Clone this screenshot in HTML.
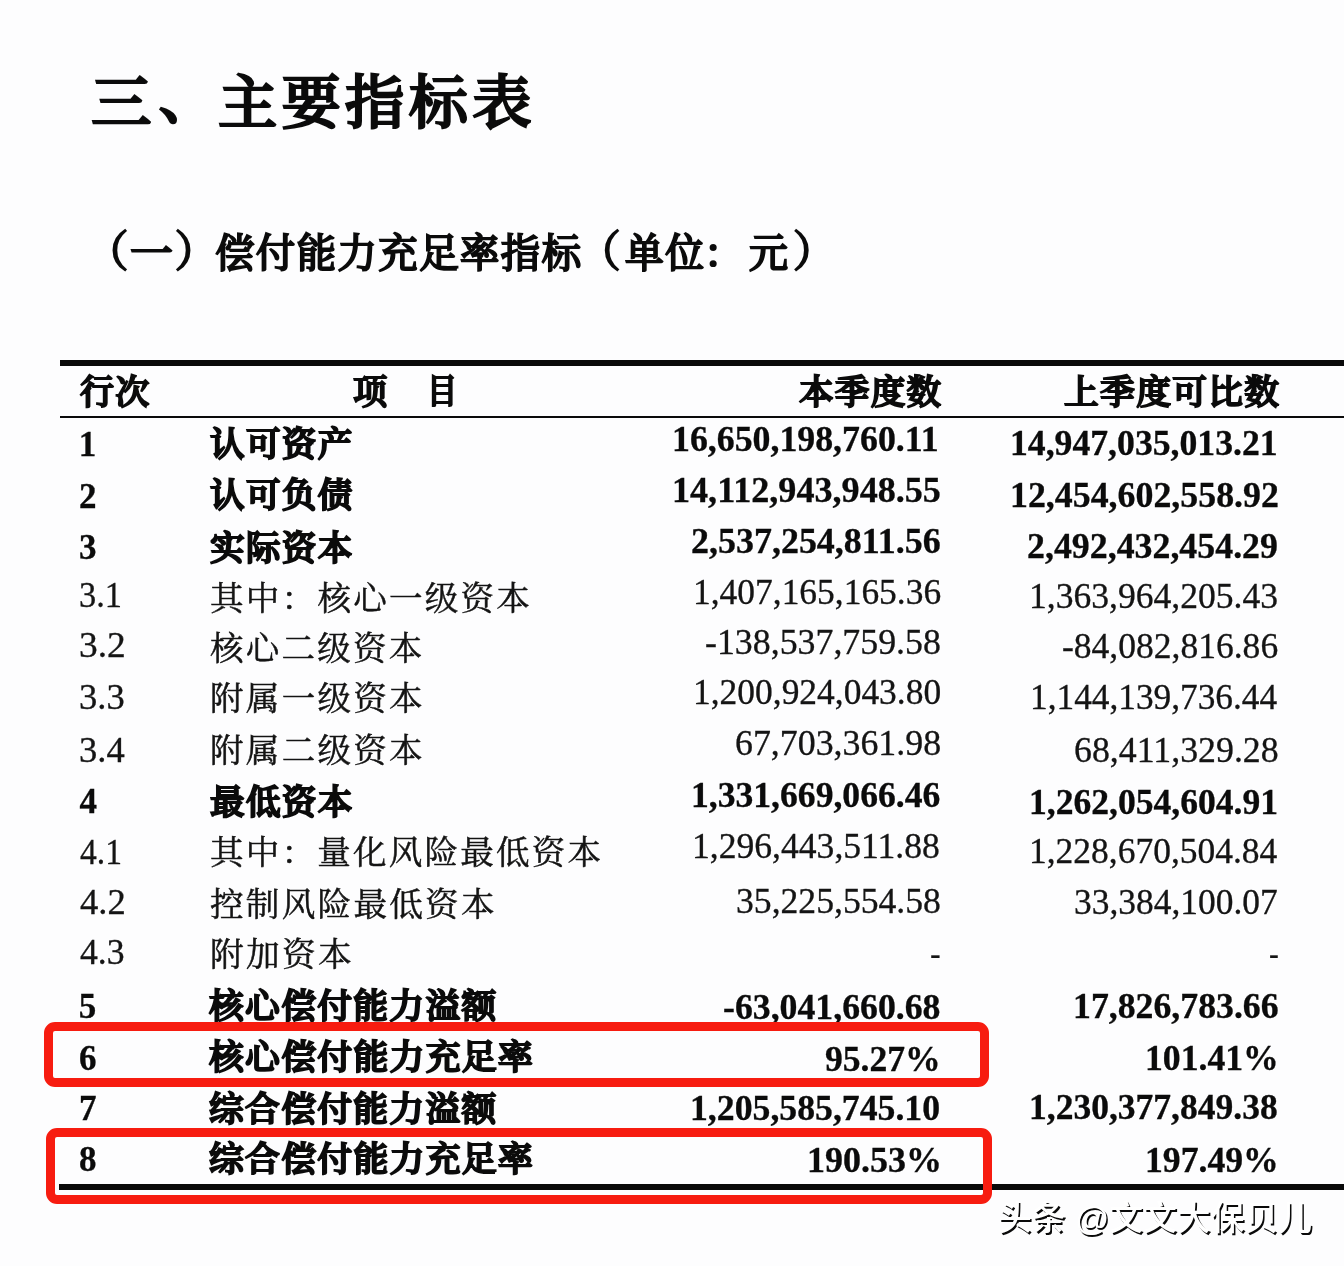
<!DOCTYPE html>
<html lang="zh-CN">
<head>
<meta charset="utf-8">
<title>三、主要指标表</title>
<style>
html,body{margin:0;padding:0;background:#fdfdfe;}
body{width:1344px;height:1266px;position:relative;overflow:hidden;filter:blur(0.45px);font-family:"Liberation Serif","Noto Serif CJK SC",serif;}
.t{position:absolute;white-space:nowrap;line-height:1;transform-origin:0 0;}
.b{font-weight:700;color:#0b0b0b;}
.r{font-weight:400;color:#141414;}
.g{position:absolute;left:0;top:0;width:1344px;height:0;}
.ln{position:absolute;background:#0a0a0a;}
.box{position:absolute;box-sizing:border-box;border-style:solid;border-color:#f71c10;}
.wm{position:absolute;white-space:nowrap;line-height:1;font-family:"Liberation Sans","Noto Sans CJK SC",sans-serif;color:#fff;}
</style>
</head>
<body>

<div class="ln" style="left:60px;top:359.7px;width:1284px;height:6px;"></div>
<div class="ln" style="left:60px;top:415.6px;width:1284px;height:2px;"></div>
<div class="ln" style="left:58.5px;top:1183.7px;width:1285.5px;height:6.5px;"></div>

<div class="g title">
<span class="t b" style="left:90.6px;top:74.6px;font-size:58.5px;transform:scaleX(1.0333);letter-spacing:4.2px;-webkit-text-stroke:2.5px #0b0b0b;font-weight:500;">三</span>
<span class="t b" style="left:158.4px;top:70.3px;font-size:58.5px;letter-spacing:4.2px;-webkit-text-stroke:2.5px #0b0b0b;font-weight:500;">、</span>
<span class="t b" style="left:218.3px;top:74.6px;font-size:58.5px;transform:scaleX(1.0136);letter-spacing:4.2px;-webkit-text-stroke:2.5px #0b0b0b;font-weight:500;">主要指标表</span>
</div>
<div class="g sub">
<span class="t b" style="left:85.6px;top:230.5px;font-size:43px;-webkit-text-stroke:1.9px #0b0b0b;font-weight:400;">（</span>
<span class="t b" style="left:130.2px;top:234.6px;font-size:39.5px;transform:scaleX(1.0868);letter-spacing:1.5px;-webkit-text-stroke:2.2px #0b0b0b;font-weight:400;">一</span>
<span class="t b" style="left:174.6px;top:230.5px;font-size:43px;-webkit-text-stroke:1.9px #0b0b0b;font-weight:400;">）</span>
<span class="t b" style="left:215.3px;top:234.6px;font-size:39.5px;transform:scaleX(0.9959);letter-spacing:1.5px;-webkit-text-stroke:2.2px #0b0b0b;font-weight:400;">偿付能力充足率指标</span>
<span class="t b" style="left:577.8px;top:230.5px;font-size:43px;-webkit-text-stroke:1.9px #0b0b0b;font-weight:400;">（</span>
<span class="t b" style="left:624.8px;top:234.6px;font-size:39.5px;transform:scaleX(0.9812);letter-spacing:1.5px;-webkit-text-stroke:2.2px #0b0b0b;font-weight:400;">单位</span>
<span class="t b" style="left:704.0px;top:234.6px;font-size:39.5px;letter-spacing:1.5px;-webkit-text-stroke:2.2px #0b0b0b;font-weight:400;">：</span>
<span class="t b" style="left:748.7px;top:234.6px;font-size:39.5px;transform:scaleX(0.9897);letter-spacing:1.5px;-webkit-text-stroke:2.2px #0b0b0b;font-weight:400;">元</span>
<span class="t b" style="left:792.8px;top:230.5px;font-size:43px;-webkit-text-stroke:1.9px #0b0b0b;font-weight:400;">）</span>
</div>
<div class="t b" style="left:80.0px;top:376.1px;font-size:34px;letter-spacing:1.3px;-webkit-text-stroke:2.1px #0b0b0b;font-weight:500;">行次</div>
<div class="t b" style="left:353.0px;top:375.5px;font-size:34px;transform:scaleX(1.0088);letter-spacing:1.3px;-webkit-text-stroke:2.1px #0b0b0b;font-weight:500;">项</div>
<div class="t b" style="left:426.8px;top:375.4px;font-size:34px;transform:scaleX(0.8885);letter-spacing:1.3px;-webkit-text-stroke:2.1px #0b0b0b;font-weight:500;">目</div>
<div class="t b" style="left:798.6px;top:375.7px;font-size:34px;transform:scaleX(1.0157);letter-spacing:1.3px;-webkit-text-stroke:2.1px #0b0b0b;font-weight:500;">本季度数</div>
<div class="t b" style="left:1064.0px;top:375.7px;font-size:34px;transform:scaleX(1.0218);letter-spacing:1.3px;-webkit-text-stroke:2.1px #0b0b0b;font-weight:500;">上季度可比数</div>
<div class="t b" style="left:78.8px;top:426.7px;font-size:35px;-webkit-text-stroke:0.3px #0b0b0b;">1</div>
<div class="t b" style="left:209.5px;top:428.0px;font-size:34px;transform:scaleX(1.0164);letter-spacing:1.3px;-webkit-text-stroke:2.2px #0b0b0b;font-weight:500;">认可资产</div>
<div class="t b" style="left:672.3px;top:422.4px;font-size:35px;transform:scaleX(1.0230);-webkit-text-stroke:0.3px #0b0b0b;">16,650,198,760.11</div>
<div class="t b" style="left:1009.9px;top:426.0px;font-size:35px;transform:scaleX(1.0194);-webkit-text-stroke:0.3px #0b0b0b;">14,947,035,013.21</div>
<div class="t b" style="left:78.9px;top:478.9px;font-size:35px;-webkit-text-stroke:0.3px #0b0b0b;">2</div>
<div class="t b" style="left:209.5px;top:478.9px;font-size:34px;transform:scaleX(1.0164);letter-spacing:1.3px;-webkit-text-stroke:2.2px #0b0b0b;font-weight:500;">认可负债</div>
<div class="t b" style="left:672.3px;top:473.4px;font-size:35px;transform:scaleX(1.0320);-webkit-text-stroke:0.3px #0b0b0b;">14,112,943,948.55</div>
<div class="t b" style="left:1009.9px;top:478.2px;font-size:35px;transform:scaleX(1.0244);-webkit-text-stroke:0.3px #0b0b0b;">12,454,602,558.92</div>
<div class="t b" style="left:78.9px;top:529.8px;font-size:35px;-webkit-text-stroke:0.3px #0b0b0b;">3</div>
<div class="t b" style="left:209.5px;top:531.6px;font-size:34px;transform:scaleX(1.0164);letter-spacing:1.3px;-webkit-text-stroke:2.2px #0b0b0b;font-weight:500;">实际资本</div>
<div class="t b" style="left:691.0px;top:524.3px;font-size:35px;transform:scaleX(1.0274);-webkit-text-stroke:0.3px #0b0b0b;">2,537,254,811.56</div>
<div class="t b" style="left:1027.4px;top:529.1px;font-size:35px;transform:scaleX(1.0243);-webkit-text-stroke:0.3px #0b0b0b;">2,492,432,454.29</div>
<div class="t r" style="left:79.1px;top:578.4px;font-size:35px;transform:scaleX(0.9829);-webkit-text-stroke:0.3px #141414;">3.1</div>
<div class="t r" style="left:210.0px;top:581.7px;font-size:33.2px;transform:scaleX(1.0115);letter-spacing:2.2px;-webkit-text-stroke:0.5px #141414;">其中：核心一级资本</div>
<div class="t r" style="left:692.5px;top:575.3px;font-size:35px;transform:scaleX(1.0129);-webkit-text-stroke:0.3px #141414;">1,407,165,165.36</div>
<div class="t r" style="left:1029.0px;top:578.8px;font-size:35px;transform:scaleX(1.0166);-webkit-text-stroke:0.3px #141414;">1,363,964,205.43</div>
<div class="t r" style="left:79.0px;top:628.2px;font-size:35px;transform:scaleX(1.0707);-webkit-text-stroke:0.3px #141414;">3.2</div>
<div class="t r" style="left:210.0px;top:632.2px;font-size:33.2px;transform:scaleX(1.0106);letter-spacing:2.2px;-webkit-text-stroke:0.5px #141414;">核心二级资本</div>
<div class="t r" style="left:705.2px;top:625.0px;font-size:35px;transform:scaleX(1.0237);-webkit-text-stroke:0.3px #141414;">-138,537,759.58</div>
<div class="t r" style="left:1061.8px;top:628.6px;font-size:35px;transform:scaleX(1.0152);-webkit-text-stroke:0.3px #141414;">-84,082,816.86</div>
<div class="t r" style="left:79.1px;top:680.3px;font-size:35px;transform:scaleX(1.0452);-webkit-text-stroke:0.3px #141414;">3.3</div>
<div class="t r" style="left:209.7px;top:681.8px;font-size:33.2px;transform:scaleX(1.0121);letter-spacing:2.2px;-webkit-text-stroke:0.5px #141414;">附属一级资本</div>
<div class="t r" style="left:692.5px;top:675.0px;font-size:35px;transform:scaleX(1.0129);-webkit-text-stroke:0.3px #141414;">1,200,924,043.80</div>
<div class="t r" style="left:1030.2px;top:680.2px;font-size:35px;transform:scaleX(1.0087);-webkit-text-stroke:0.3px #141414;">1,144,139,736.44</div>
<div class="t r" style="left:79.1px;top:732.8px;font-size:35px;transform:scaleX(1.0452);-webkit-text-stroke:0.3px #141414;">3.4</div>
<div class="t r" style="left:209.7px;top:734.0px;font-size:33.2px;transform:scaleX(1.0121);letter-spacing:2.2px;-webkit-text-stroke:0.5px #141414;">附属二级资本</div>
<div class="t r" style="left:734.8px;top:726.0px;font-size:35px;transform:scaleX(1.0241);-webkit-text-stroke:0.3px #141414;">67,703,361.98</div>
<div class="t r" style="left:1073.6px;top:733.2px;font-size:35px;transform:scaleX(1.0237);-webkit-text-stroke:0.3px #141414;">68,411,329.28</div>
<div class="t b" style="left:79.4px;top:783.8px;font-size:35px;-webkit-text-stroke:0.3px #0b0b0b;">4</div>
<div class="t b" style="left:209.5px;top:785.6px;font-size:34px;transform:scaleX(1.0179);letter-spacing:1.3px;-webkit-text-stroke:2.2px #0b0b0b;font-weight:500;">最低资本</div>
<div class="t b" style="left:691.3px;top:778.2px;font-size:35px;transform:scaleX(1.0174);-webkit-text-stroke:0.3px #0b0b0b;">1,331,669,066.46</div>
<div class="t b" style="left:1029.0px;top:784.7px;font-size:35px;transform:scaleX(1.0167);-webkit-text-stroke:0.3px #0b0b0b;">1,262,054,604.91</div>
<div class="t r" style="left:80.1px;top:834.7px;font-size:35px;transform:scaleX(0.9595);-webkit-text-stroke:0.3px #141414;">4.1</div>
<div class="t r" style="left:210.0px;top:836.0px;font-size:33.2px;transform:scaleX(1.0104);letter-spacing:2.2px;-webkit-text-stroke:0.5px #141414;">其中：量化风险最低资本</div>
<div class="t r" style="left:692.4px;top:829.1px;font-size:35px;transform:scaleX(1.0171);-webkit-text-stroke:0.3px #141414;">1,296,443,511.88</div>
<div class="t r" style="left:1029.0px;top:834.2px;font-size:35px;transform:scaleX(1.0136);-webkit-text-stroke:0.3px #141414;">1,228,670,504.84</div>
<div class="t r" style="left:80.1px;top:884.5px;font-size:35px;transform:scaleX(1.0452);-webkit-text-stroke:0.3px #141414;">4.2</div>
<div class="t r" style="left:210.0px;top:888.0px;font-size:33.2px;transform:scaleX(1.0129);letter-spacing:2.2px;-webkit-text-stroke:0.5px #141414;">控制风险最低资本</div>
<div class="t r" style="left:736.0px;top:884.2px;font-size:35px;transform:scaleX(1.0181);-webkit-text-stroke:0.3px #141414;">35,225,554.58</div>
<div class="t r" style="left:1073.6px;top:884.7px;font-size:35px;transform:scaleX(1.0120);-webkit-text-stroke:0.3px #141414;">33,384,100.07</div>
<div class="t r" style="left:80.1px;top:935.4px;font-size:35px;transform:scaleX(1.0209);-webkit-text-stroke:0.3px #141414;">4.3</div>
<div class="t r" style="left:209.7px;top:938.0px;font-size:33.2px;transform:scaleX(1.0169);letter-spacing:2.2px;-webkit-text-stroke:0.5px #141414;">附加资本</div>
<div class="t r" style="left:930.4px;top:936.0px;font-size:35px;transform:scaleX(0.9222);">-</div>
<div class="t r" style="left:1268.9px;top:936.2px;font-size:35px;transform:scaleX(0.8444);">-</div>
<div class="t b" style="left:78.7px;top:989.2px;font-size:35px;-webkit-text-stroke:0.3px #0b0b0b;">5</div>
<div class="t b" style="left:209.2px;top:989.6px;font-size:34px;transform:scaleX(1.0217);letter-spacing:1.3px;-webkit-text-stroke:2.2px #0b0b0b;font-weight:500;">核心偿付能力溢额</div>
<div class="t b" style="left:723.0px;top:989.5px;font-size:35px;transform:scaleX(1.0213);-webkit-text-stroke:0.3px #0b0b0b;">-63,041,660.68</div>
<div class="t b" style="left:1072.6px;top:989.1px;font-size:35px;transform:scaleX(1.0218);-webkit-text-stroke:0.3px #0b0b0b;">17,826,783.66</div>
<div class="t b" style="left:78.9px;top:1041.4px;font-size:35px;-webkit-text-stroke:0.3px #0b0b0b;">6</div>
<div class="t b" style="left:209.2px;top:1041.0px;font-size:34px;transform:scaleX(1.0231);letter-spacing:1.3px;-webkit-text-stroke:2.2px #0b0b0b;font-weight:500;">核心偿付能力充足率</div>
<div class="t b" style="left:825.4px;top:1041.9px;font-size:35px;transform:scaleX(1.0173);-webkit-text-stroke:0.3px #0b0b0b;">95.27%</div>
<div class="t b" style="left:1145.2px;top:1040.7px;font-size:35px;transform:scaleX(1.0192);-webkit-text-stroke:0.3px #0b0b0b;">101.41%</div>
<div class="t b" style="left:78.9px;top:1090.7px;font-size:35px;-webkit-text-stroke:0.3px #0b0b0b;">7</div>
<div class="t b" style="left:209.2px;top:1092.8px;font-size:34px;transform:scaleX(1.0217);letter-spacing:1.3px;-webkit-text-stroke:2.2px #0b0b0b;font-weight:500;">综合偿付能力溢额</div>
<div class="t b" style="left:689.9px;top:1090.7px;font-size:35px;transform:scaleX(1.0207);-webkit-text-stroke:0.3px #0b0b0b;">1,205,585,745.10</div>
<div class="t b" style="left:1029.4px;top:1090.2px;font-size:35px;transform:scaleX(1.0149);-webkit-text-stroke:0.3px #0b0b0b;">1,230,377,849.38</div>
<div class="t b" style="left:78.9px;top:1142.2px;font-size:35px;-webkit-text-stroke:0.3px #0b0b0b;">8</div>
<div class="t b" style="left:209.2px;top:1143.4px;font-size:34px;transform:scaleX(1.0231);letter-spacing:1.3px;-webkit-text-stroke:2.2px #0b0b0b;font-weight:500;">综合偿付能力充足率</div>
<div class="t b" style="left:806.7px;top:1142.7px;font-size:35px;transform:scaleX(1.0280);-webkit-text-stroke:0.3px #0b0b0b;">190.53%</div>
<div class="t b" style="left:1145.2px;top:1142.6px;font-size:35px;transform:scaleX(1.0192);-webkit-text-stroke:0.3px #0b0b0b;">197.49%</div>
<div class="t r" style="left:998.4px;top:1201.0px;font-size:34px;transform:scaleX(0.9939);color:#ffffff;font-weight:500;font-family:'Liberation Sans','Noto Sans CJK SC',sans-serif;text-shadow:1.6px 2px 0 #0a0a0a;">头条 @文文大保贝儿</div>

<div class="box" style="left:44.4px;top:1022.1px;width:945px;height:64.9px;border-width:9.2px;border-radius:11px;"></div>
<div class="box" style="left:46px;top:1128px;width:946px;height:75.6px;border-width:9.3px;border-radius:11px;"></div>

</body>
</html>
